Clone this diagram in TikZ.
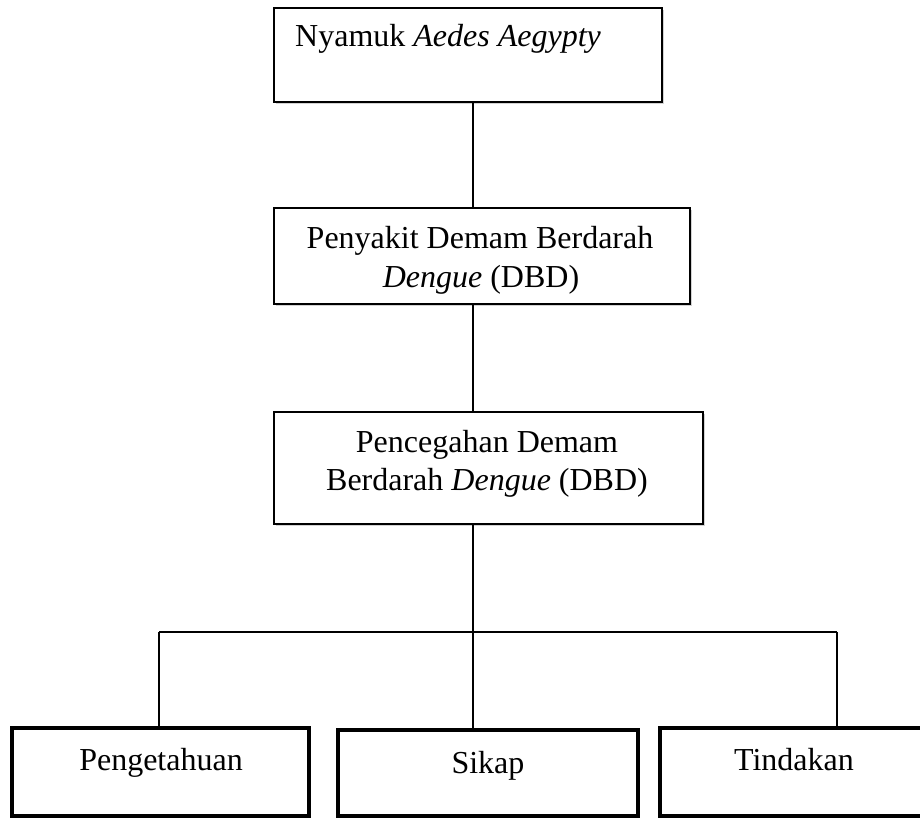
\documentclass[tikz,border=0pt]{standalone}
\usepackage{fontspec}
\setmainfont{Liberation Serif}
\usetikzlibrary{shadows}
\tikzset{
  thinbox/.style={draw=black, line width=1.5pt, fill=white, inner sep=0pt,
    drop shadow={shadow xshift=2pt, shadow yshift=-2pt, opacity=0.35}},
  thickbox/.style={draw=black, line width=4pt, fill=white, inner sep=0pt},
  conn/.style={draw=black, line width=1.3pt},
  txt/.style={inner sep=0pt, font=\fontsize{32}{37}\selectfont},
}
\begin{document}
\begin{tikzpicture}[x=1pt, y=-1pt]
\useasboundingbox (0,0) rectangle (920,818);
\clip (0,0) rectangle (920,818);
\fill[white] (0,0) rectangle (920,818);

% boxes
\node[thinbox, minimum width=388pt, minimum height=94pt] (b1) at (468,55) {};
\node[thinbox, minimum width=416pt, minimum height=96pt] (b2) at (482,256) {};
\node[thinbox, minimum width=429pt, minimum height=112pt] (b3) at (488.5,468) {};
\node[thickbox, minimum width=297pt, minimum height=88pt] (p) at (160.5,772) {};
\node[thickbox, minimum width=300pt, minimum height=86pt] (s) at (488,773) {};
\node[thickbox, minimum width=268pt, minimum height=88pt] (t) at (794,772) {};

% texts
\node[txt, anchor=base west] (b1t) at (295,47) {Nyamuk \textit{Aedes Aegypty}};
\node[txt, anchor=base] (b2t1) at (480,248) {Penyakit Demam Berdarah};
\node[txt, anchor=base] (b2t2) at (481,287) {\textit{Dengue} (DBD)};
\node[txt, anchor=base] (b3t1) at (487,452) {Pencegahan Demam};
\node[txt, anchor=base] (b3t2) at (487,490) {Berdarah \textit{Dengue} (DBD)};
\node[txt, anchor=base] (pt) at (161,770) {Pengetahuan};
\node[txt, anchor=base] (st) at (488,773) {Sikap};
\node[txt, anchor=base] (tt) at (794,770) {Tindakan};

% connectors
\coordinate (spine) at (473,632);
\coordinate (lft) at (159,632);
\coordinate (rgt) at (837,632);
\draw[conn] (spine |- b1.south) -- (spine |- b2.north);
\draw[conn] (spine |- b2.south) -- (spine |- b3.north);
\draw[conn] (spine |- b3.south) -- (spine);
\draw[conn] (lft) -- (rgt);
\draw[conn] (lft) -- (lft |- p.north);
\draw[conn] (spine) -- (spine |- s.north);
\draw[conn] (rgt) -- (rgt |- t.north);
\end{tikzpicture}
\end{document}
